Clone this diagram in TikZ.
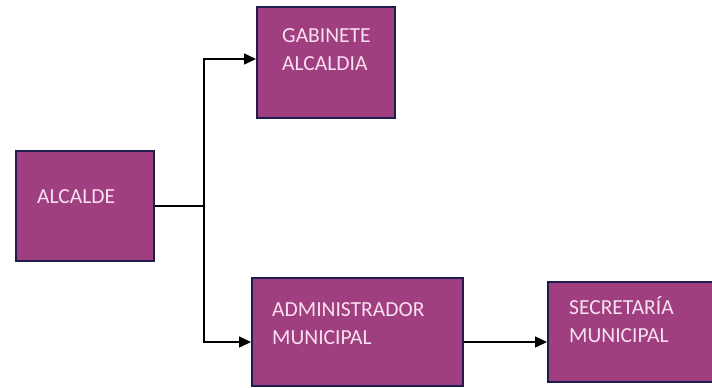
\documentclass[tikz,border=0pt]{standalone}
\usepackage{fontspec}
\setmainfont{Carlito}
\usetikzlibrary{arrows.meta,calc}
\definecolor{boxfill}{HTML}{A03F80}
\definecolor{boxline}{HTML}{1E1E4E}
\definecolor{boxtext}{HTML}{F8E0F0}
\tikzset{
  orgbox/.style={draw=boxline, line width=2pt, fill=boxfill, inner sep=0pt},
  orgtext/.style={anchor=north west, align=left, text=boxtext, font=\fontsize{21.5}{28}\selectfont, inner sep=0pt},
  link/.style={line width=1.5pt, black},
  tip/.style={-{Triangle[length=12pt,width=11pt]}}
}
\begin{document}
\begin{tikzpicture}[x=1pt,y=-1pt]
\useasboundingbox (0,0) rectangle (712,388);
\fill[white] (0,0) rectangle (712,388);
\node[orgbox, minimum width=138pt, minimum height=110pt] (alc) at (85,206) {};
\node[orgbox, minimum width=138pt, minimum height=111pt] (gab) at (326,62) {};
\node[orgbox, minimum width=211pt, minimum height=108pt] (adm) at (357.5,332) {};
\node[orgbox, minimum width=170pt, minimum height=100pt] (sec) at (633,332) {};
\node[orgtext] (talc) at ($(alc.north west)+(22,39)$) {ALCALDE};
\node[orgtext] (tgab) at ($(gab.north west)+(26,23)$) {GABINETE\\ALCALDIA};
\node[orgtext] (tadm) at ($(adm.north west)+(21,25)$) {ADMINISTRADOR\\MUNICIPAL};
\node[orgtext] (tsec) at ($(sec.north west)+(22,15)$) {SECRETARÍA\\MUNICIPAL};
\coordinate (j) at (204,206);
\draw[link] (alc.east) -- (j);
\draw[link, tip] (j) |- ([yshift=3pt]gab.west);
\draw[link, tip] (j) |- ([yshift=-10pt]adm.west);
\draw[link, tip] ([yshift=-10pt]adm.east) -- ([yshift=-10pt]sec.west);
\end{tikzpicture}
\end{document}
